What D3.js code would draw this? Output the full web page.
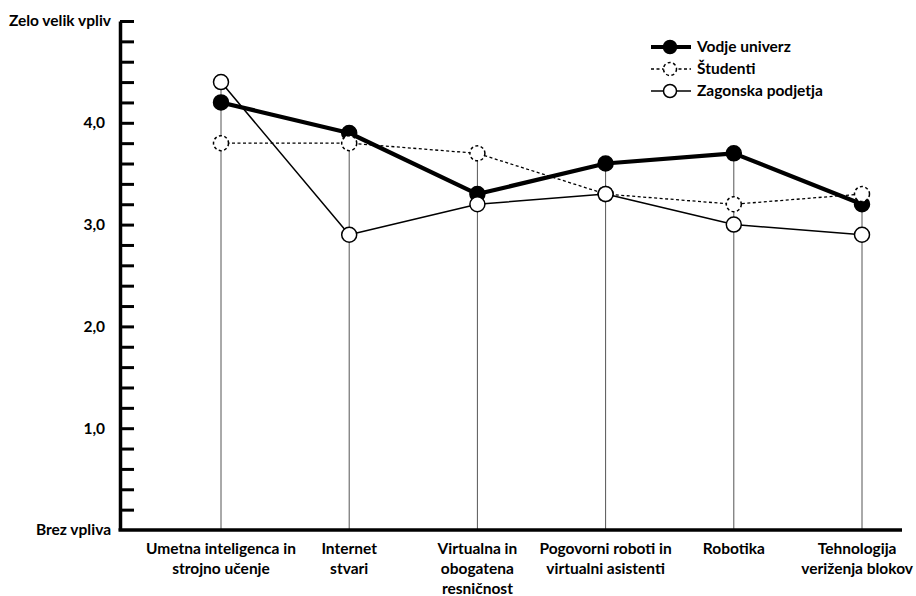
<!DOCTYPE html>
<html>
<head>
<meta charset="utf-8">
<script src="https://cdn.jsdelivr.net/npm/d3@7"></script>
<style>
  body { margin: 0; background: #fff; }
  svg text { font-family: Lato, "Open Sans", sans-serif; font-weight: bold; fill: #000; }
</style>
</head>
<body>
<svg id="chart" width="916" height="596"></svg>
<script>
// Categories (each label split into its display lines)
const categories = [
  ["Umetna inteligenca in", "strojno učenje"],
  ["Internet", "stvari"],
  ["Virtualna in", "obogatena", "resničnost"],
  ["Pogovorni roboti in", "virtualni asistenti"],
  ["Robotika"],
  ["Tehnologija", "veriženja blokov"]
];

// Series values (scale 0 = Brez vpliva, 5 = Zelo velik vpliv)
const vodjeUniverz     = [4.2, 3.9, 3.3, 3.6, 3.7, 3.2];
const studenti         = [3.8, 3.8, 3.7, 3.3, 3.2, 3.3];
const zagonskaPodjetja = [4.4, 2.9, 3.2, 3.3, 3.0, 2.9];

const seriesNames = ["Vodje univerz", "Študenti", "Zagonska podjetja"];

// Y axis tick labels
const yMajorTicks = [0, 1, 2, 3, 4, 5];
const yTickLabels = ["Brez vpliva", "1,0", "2,0", "3,0", "4,0", "Zelo velik vpliv"];

const FONT = 15.5;
const W = 916;
const svg = d3.select("#chart");

const axisX0 = 120, axisX1 = 902;
const y = d3.scaleLinear().domain([0, 5]).range([530, 21]);
const x = d3.scalePoint().domain(d3.range(categories.length)).range([221, 862]);

const series = [
  { name: seriesNames[0], values: vodjeUniverz, width: 4.2, dash: null, fill: "#000", stroke: "#000" },
  { name: seriesNames[1], values: studenti, width: 1.3, dash: "3,2.5", fill: "#fff", stroke: "#000" },
  { name: seriesNames[2], values: zagonskaPodjetja, width: 1.5, dash: null, fill: "#fff", stroke: "#000" }
];

// Drop lines from the highest value of each category down to the baseline
svg.append("g").selectAll("line")
  .data(categories.map((c, i) => i))
  .join("line")
  .attr("x1", i => x(i)).attr("x2", i => x(i))
  .attr("y1", i => y(d3.max(series, s => s.values[i])))
  .attr("y2", y(0))
  .attr("stroke", "#555").attr("stroke-width", 1);

// Y axis: minor ticks every 0.2
const minorTicks = d3.range(0, 26).map(k => k / 5);
const yAxis = d3.axisRight(y)
  .tickValues(minorTicks)
  .tickSize(14)
  .tickSizeOuter(0)
  .tickFormat("");
const yg = svg.append("g").attr("transform", `translate(${axisX0},0)`).call(yAxis);
yg.select(".domain").attr("stroke", "#000").attr("stroke-width", 3.5);
yg.selectAll(".tick line").attr("stroke", "#000").attr("stroke-width", 3);
yg.selectAll(".tick").filter(d => d === 0).remove();

// Y labels
svg.append("g").selectAll("text")
  .data(yMajorTicks)
  .join("text")
  .attr("x", (d, i) => (i === 0 || i === 5) ? 111 : 105)
  .attr("y", d => y(d))
  .attr("dy", "0.35em")
  .attr("text-anchor", "end")
  .attr("font-size", FONT)
  .text((d, i) => yTickLabels[i]);

// X axis baseline
svg.append("line")
  .attr("x1", axisX0 - 1.5).attr("x2", axisX1)
  .attr("y1", y(0)).attr("y2", y(0))
  .attr("stroke", "#000").attr("stroke-width", 3.5);

// X labels, centred under each category but kept inside the page
const xl = svg.append("g").selectAll("text")
  .data(categories)
  .join("text")
  .attr("text-anchor", "middle")
  .attr("font-size", FONT);
xl.selectAll("tspan")
  .data((d, i) => d.map(t => ({ t, i })))
  .join("tspan")
  .attr("x", d => x(d.i))
  .attr("y", (d, j) => 553.5 + j * 20)
  .text(d => d.t);
xl.each(function(d, i) {
  const wMax = d3.max(d3.select(this).selectAll("tspan").nodes(), n => n.getComputedTextLength());
  const cx = Math.min(x(i), W - 3 - wMax / 2);
  d3.select(this).selectAll("tspan").attr("x", cx);
});

// Lines and markers
const line = d3.line().x((d, i) => x(i)).y(d => y(d));
series.forEach(s => {
  const g = svg.append("g");
  g.append("path")
    .attr("d", line(s.values))
    .attr("fill", "none")
    .attr("stroke", s.stroke)
    .attr("stroke-width", s.width)
    .attr("stroke-linejoin", "round")
    .attr("stroke-dasharray", s.dash);
  g.selectAll("circle")
    .data(s.values)
    .join("circle")
    .attr("cx", (d, i) => x(i))
    .attr("cy", d => y(d))
    .attr("r", 7.5)
    .attr("fill", s.fill)
    .attr("stroke", "#000")
    .attr("stroke-width", 1.5)
    .attr("stroke-dasharray", s.dash);
});

// Legend
const legend = svg.append("g");
series.forEach((s, k) => {
  const ly = 47 + k * 22;
  legend.append("line")
    .attr("x1", 651).attr("x2", 691)
    .attr("y1", ly).attr("y2", ly)
    .attr("stroke", "#000")
    .attr("stroke-width", s.width)
    .attr("stroke-dasharray", s.dash);
  legend.append("circle")
    .attr("cx", 670).attr("cy", ly).attr("r", 6.5)
    .attr("fill", s.fill).attr("stroke", "#000").attr("stroke-width", 1.5)
    .attr("stroke-dasharray", s.dash);
  legend.append("text")
    .attr("x", 697).attr("y", ly).attr("dy", "0.35em")
    .attr("font-size", FONT)
    .text(s.name);
});
</script>
</body>
</html>
